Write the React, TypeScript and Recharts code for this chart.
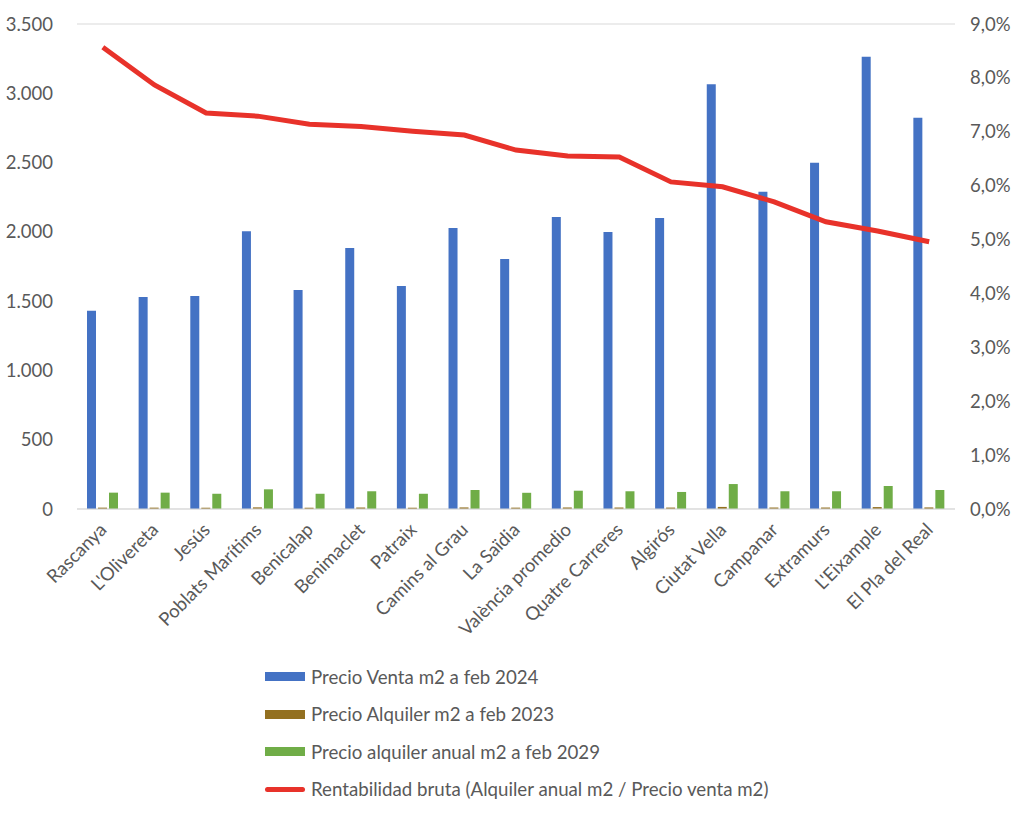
import React from 'react';
import { ComposedChart, Bar, Line, XAxis, YAxis, CartesianGrid, Legend } from 'recharts';

// Barrios de València, ordenados por rentabilidad bruta
const barrios = [
  'Rascanya', "L'Olivereta", 'Jesús', 'Poblats Marítims', 'Benicalap', 'Benimaclet',
  'Patraix', 'Camins al Grau', 'La Saïdia', 'València promedio', 'Quatre Carreres',
  'Algirós', 'Ciutat Vella', 'Campanar', 'Extramurs', "L'Eixample", 'El Pla del Real',
];
const precioVenta = [1430, 1530, 1537, 2005, 1580, 1883, 1609, 2027, 1804, 2107, 1999, 2100, 3066, 2289, 2499, 3263, 2823];
const alquilerMes = [9.8, 9.8, 9.2, 11.8, 9.2, 10.7, 9.2, 11.4, 9.8, 11, 10.7, 10.3, 15, 10.7, 10.7, 13.8, 11.4];
const alquilerAnual = [118, 118, 110, 142, 110, 128, 110, 137, 117, 132, 128, 123, 180, 128, 128, 166, 137];
const rentabilidad = [0.0857, 0.0787, 0.0735, 0.0729, 0.0714, 0.071, 0.0701, 0.0694, 0.0666, 0.0655, 0.0653, 0.0607, 0.0598, 0.057, 0.0533, 0.0516, 0.0496];

const leftTicks = [0, 500, 1000, 1500, 2000, 2500, 3000, 3500];
const rightTicks = [0, 0.01, 0.02, 0.03, 0.04, 0.05, 0.06, 0.07, 0.08, 0.09];

const data = barrios.map((name, i) => ({
  name,
  venta: precioVenta[i],
  mes: alquilerMes[i],
  anual: alquilerAnual[i],
  rent: rentabilidad[i],
}));

const FONT = 'Lato, sans-serif';
const TEXT = '#595959';

const legendItems = [
  { label: 'Precio Venta m2 a feb 2024', color: '#4472C4', line: false },
  { label: 'Precio Alquiler m2 a feb 2023', color: '#937020', line: false },
  { label: 'Precio alquiler anual m2 a feb 2029', color: '#70AD47', line: false },
  { label: 'Rentabilidad bruta (Alquiler anual m2 / Precio venta m2)', color: '#E8322A', line: true },
];

function ChartLegend() {
  return (
    <div style={{ height: 155, paddingLeft: 265, fontFamily: FONT, fontSize: 18.7, color: TEXT }}>
      {legendItems.map((it) => (
        <div key={it.label} style={{ height: 37.5, display: 'flex', alignItems: 'center' }}>
          <span
            style={{
              display: 'inline-block',
              width: 40,
              height: it.line ? 5 : 9,
              borderRadius: it.line ? 3 : 0,
              backgroundColor: it.color,
              marginRight: 6,
            }}
          />
          <span>{it.label}</span>
        </div>
      ))}
    </div>
  );
}

function BarrioTick({ x, y, payload }: { x?: number; y?: number; payload?: { value: string } }) {
  const tx = (x ?? 0) + 5;
  const ty = (y ?? 0) + 14;
  return (
    <text
      x={tx}
      y={ty}
      transform={`rotate(-45, ${tx}, ${ty})`}
      textAnchor="end"
      fill={TEXT}
      fontSize={18.5}
      fontFamily={FONT}
    >
      {payload?.value}
    </text>
  );
}

const fmtMiles = (v: number) => v.toLocaleString('de-DE');
const fmtPct = (v: number) => `${(v * 100).toFixed(1).replace('.', ',')}%`;

export default function App() {
  return (
    <div style={{ position: 'absolute', left: 0, top: 0, background: '#fff' }}>
      <ComposedChart
        width={1024}
        height={813}
        data={data}
        margin={{ top: 24, right: 0, bottom: 0, left: 0 }}
        barCategoryGap={10}
        barGap={2}
      >
        <CartesianGrid vertical={false} stroke="#d9d9d9" strokeWidth={1} />
        <XAxis
          dataKey="name"
          interval={0}
          height={149}
          tickLine={false}
          axisLine={{ stroke: '#d9d9d9' }}
          tick={<BarrioTick />}
        />
        <YAxis
          yAxisId="left"
          width={77}
          domain={[0, 3500]}
          ticks={leftTicks}
          tickFormatter={fmtMiles}
          axisLine={false}
          tickLine={false}
          tick={{ fill: TEXT, fontSize: 18.5, fontFamily: FONT }}
          tickMargin={18}
        />
        <YAxis
          yAxisId="right"
          orientation="right"
          width={69}
          domain={[0, 0.09]}
          ticks={rightTicks}
          tickFormatter={fmtPct}
          axisLine={false}
          tickLine={false}
          tick={{ fill: TEXT, fontSize: 18.5, fontFamily: FONT, textAnchor: 'start' }}
          tickMargin={9}
        />
        <Legend verticalAlign="bottom" content={<ChartLegend />} />
        <Bar yAxisId="left" dataKey="venta" fill="#4472C4" isAnimationActive={false} />
        <Bar yAxisId="left" dataKey="mes" fill="#937020" isAnimationActive={false} />
        <Bar yAxisId="left" dataKey="anual" fill="#70AD47" isAnimationActive={false} />
        <Line
          yAxisId="right"
          dataKey="rent"
          type="linear"
          stroke="#E8322A"
          strokeWidth={5}
          dot={false}
          activeDot={false}
          isAnimationActive={false}
        />
      </ComposedChart>
    </div>
  );
}
